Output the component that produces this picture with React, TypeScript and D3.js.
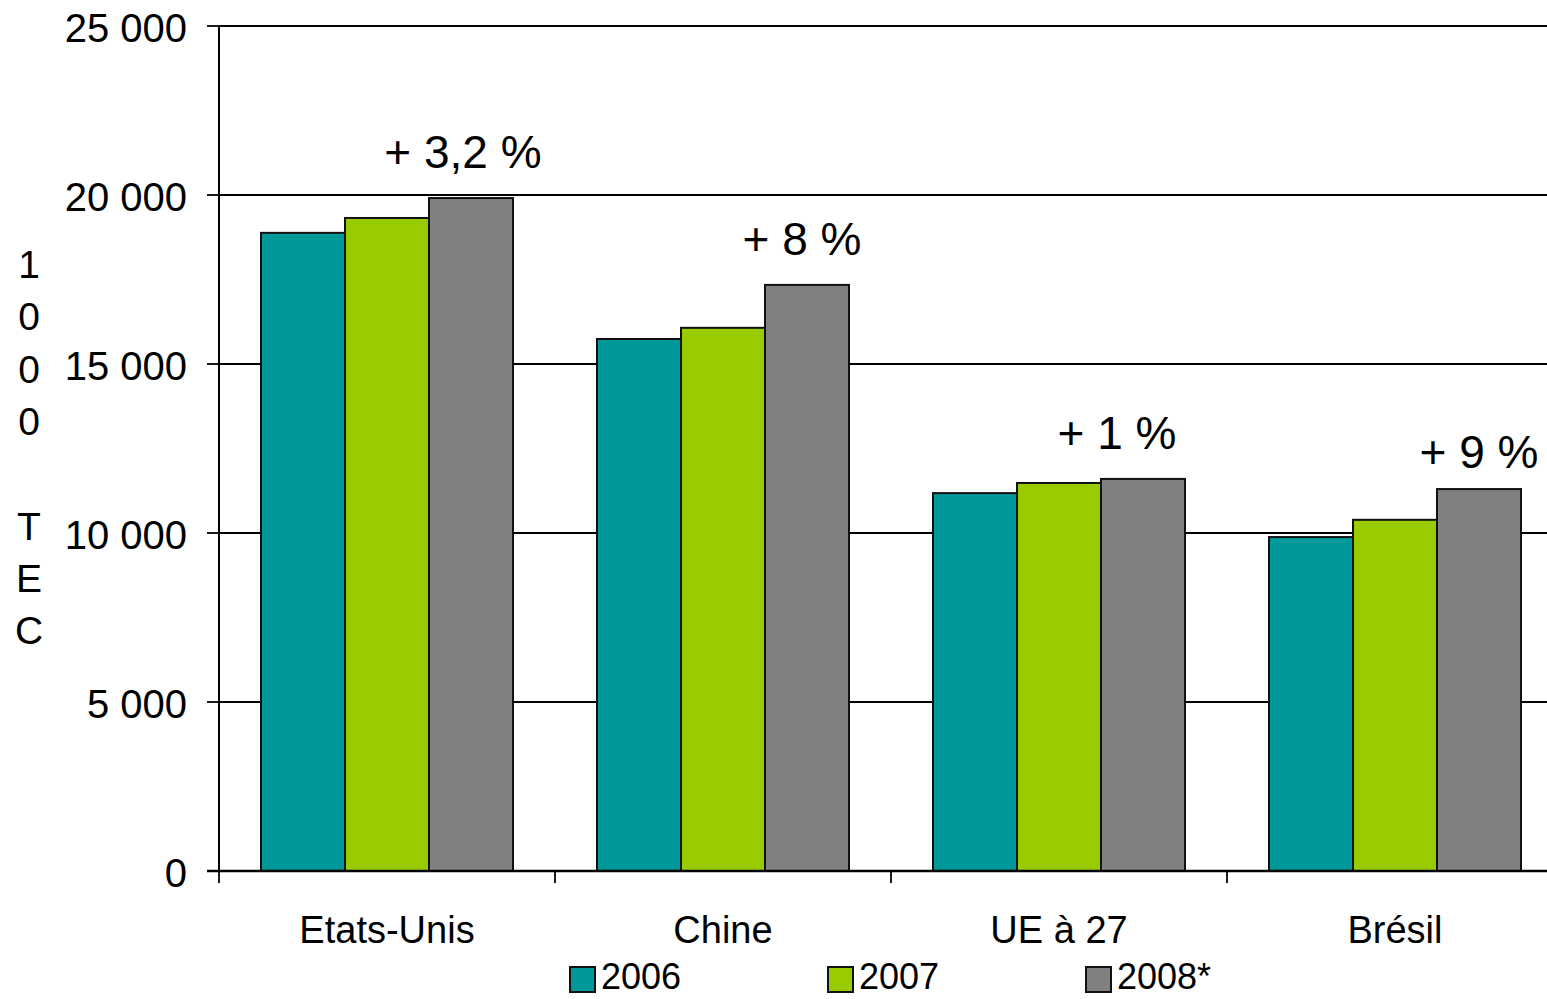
import { useRef, useEffect } from "react";
import * as d3 from "d3";

const categories = ["Etats-Unis", "Chine", "UE à 27", "Brésil"];
const series = ["2006", "2007", "2008*"];
const colors = ["#009999", "#99cc00", "#808080"];
const values2006 = [18880, 15740, 11180, 9880];
const values2007 = [19320, 16070, 11480, 10390];
const values2008 = [19910, 17340, 11600, 11300];
const growthLabels = ["+ 3,2 %", "+ 8 %", "+ 1 %", "+ 9 %"];
const yTicks = [0, 5000, 10000, 15000, 20000, 25000];
const yLabelChars = ["1", "0", "0", "0", "", "T", "E", "C"];

const FONT = "'Liberation Sans', Arial, sans-serif";

export default function App() {
  const svgRef = useRef<SVGSVGElement>(null);

  useEffect(() => {
    if (!svgRef.current) return;
    const svg = d3.select(svgRef.current);
    svg.selectAll("*").remove();

    const width = 1547;
    const left = 219;
    const top = 26;
    const bottom = 871;
    const step = 336;

    const y = d3.scaleLinear().domain([0, 25000]).range([bottom, top]);
    const x = d3
      .scaleBand<string>()
      .domain(categories)
      .range([left, left + step * categories.length])
      .padding(0);
    const xs = d3
      .scaleBand<string>()
      .domain(series)
      .range([0, x.bandwidth()])
      .paddingInner(0)
      .paddingOuter(0.5);

    const g = svg.append("g").attr("font-family", FONT);

    // gridlines
    g.selectAll("line.grid")
      .data(yTicks.filter((t) => t > 0))
      .join("line")
      .attr("x1", left)
      .attr("x2", width)
      .attr("y1", (d) => y(d))
      .attr("y2", (d) => y(d))
      .attr("stroke", "#000")
      .attr("stroke-width", 1.8);

    // y ticks + labels
    g.selectAll("line.ytick")
      .data(yTicks)
      .join("line")
      .attr("x1", left - 12)
      .attr("x2", left)
      .attr("y1", (d) => y(d))
      .attr("y2", (d) => y(d))
      .attr("stroke", "#000")
      .attr("stroke-width", 1.8);

    const fmt = (v: number) => d3.format(",")(v).replace(/,/g, " ");
    g.selectAll("text.ytick")
      .data(yTicks)
      .join("text")
      .attr("x", left - 32)
      .attr("y", (d) => y(d) + 16)
      .attr("text-anchor", "end")
      .attr("font-size", 40)
      .attr("fill", "#000")
      .text((d) => fmt(d));

    // bars
    const allValues = [values2006, values2007, values2008];
    series.forEach((s, si) => {
      g.selectAll(`rect.s${si}`)
        .data(categories)
        .join("rect")
        .attr("x", (c) => x(c)! + xs(s)!)
        .attr("y", (_, i) => y(allValues[si][i]))
        .attr("width", xs.bandwidth())
        .attr("height", (_, i) => bottom - y(allValues[si][i]))
        .attr("fill", colors[si])
        .attr("stroke", "#111")
        .attr("stroke-width", 2);
    });

    // axes lines
    g.append("line")
      .attr("x1", left)
      .attr("x2", left)
      .attr("y1", top)
      .attr("y2", bottom)
      .attr("stroke", "#000")
      .attr("stroke-width", 2);
    g.append("line")
      .attr("x1", left - 12)
      .attr("x2", width)
      .attr("y1", bottom)
      .attr("y2", bottom)
      .attr("stroke", "#000")
      .attr("stroke-width", 2.5);

    // x ticks at group boundaries
    const bounds = categories.map((c) => x(c)!);
    g.selectAll("line.xtick")
      .data(bounds)
      .join("line")
      .attr("x1", (d) => d)
      .attr("x2", (d) => d)
      .attr("y1", bottom)
      .attr("y2", bottom + 12)
      .attr("stroke", "#000")
      .attr("stroke-width", 1.8);

    // category labels
    g.selectAll("text.cat")
      .data(categories)
      .join("text")
      .attr("x", (c) => x(c)! + x.bandwidth() / 2)
      .attr("y", 943)
      .attr("text-anchor", "middle")
      .attr("font-size", 38)
      .attr("fill", "#000")
      .text((c) => c);

    // growth labels above 2008 bars
    const nudge = [-8, -5, -26, 0];
    g.selectAll("text.growth")
      .data(categories)
      .join("text")
      .attr("x", (c, i) => x(c)! + xs(series[2])! + xs.bandwidth() / 2 + nudge[i])
      .attr("y", (_, i) => y(values2008[i]) - (i === 3 ? 21 : 30))
      .attr("text-anchor", "middle")
      .attr("font-size", 46)
      .attr("fill", "#000")
      .text((_, i) => growthLabels[i]);

    // y axis title, one char per line
    g.selectAll("text.ytitle")
      .data(yLabelChars)
      .join("text")
      .attr("x", 29)
      .attr("y", (_, i) => 278 + i * 52.3)
      .attr("text-anchor", "middle")
      .attr("font-size", 39)
      .attr("fill", "#000")
      .text((d) => d);

    // legend
    const legendX = [570, 828, 1086];
    const lg = g
      .selectAll("g.legend")
      .data(series)
      .join("g")
      .attr("transform", (_, i) => `translate(${legendX[i]},967)`);
    lg.append("rect")
      .attr("width", 25)
      .attr("height", 25)
      .attr("fill", (_, i) => colors[i])
      .attr("stroke", "#111")
      .attr("stroke-width", 2);
    lg.append("text")
      .attr("x", 31)
      .attr("y", 22)
      .attr("font-size", 36)
      .attr("fill", "#000")
      .text((d) => d);
  }, []);

  return (
    <svg
      ref={svgRef}
      width={1547}
      height={999}
      style={{ position: "absolute", left: 0, top: 0, background: "#fff" }}
    />
  );
}
